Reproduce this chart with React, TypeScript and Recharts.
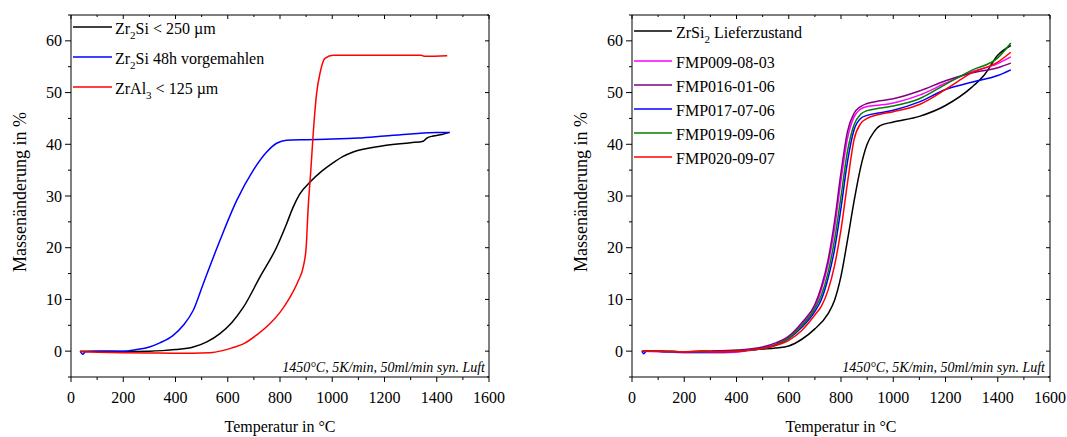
import { Line, LineChart, XAxis, YAxis } from 'recharts'

const serif = "'Liberation Serif', 'Times New Roman', serif"

const xTicks = [0, 100, 200, 300, 400, 500, 600, 700, 800, 900, 1000, 1100, 1200, 1300, 1400, 1500, 1600]
const yTicks = [-5, 0, 5, 10, 15, 20, 25, 30, 35, 40, 45, 50, 55, 60, 65]

// left panel: [temperature °C, mass change %]
const zr2siCoarse: [number, number][] = [
  [35, 0], [100, 0], [200, -0.05], [300, 0], [350, 0.1], [400, 0.3], [468, 0.8], [520, 1.8],
  [570, 3.4], [615, 5.5], [660, 8.5], [723, 14.3], [787, 20.1], [825, 24.6], [850, 27.8],
  [876, 30.4], [915, 32.7], [960, 34.8], [1000, 36.3], [1040, 37.6], [1080, 38.5], [1195, 39.7],
  [1300, 40.3], [1348, 40.6], [1362, 41.2], [1386, 41.6], [1420, 41.9], [1448, 42.3],
]
const zr2siMilled: [number, number][] = [
  [35, 0], [45, -0.6], [55, -0.1], [100, 0], [200, 0], [250, 0.3], [300, 0.8], [340, 1.6],
  [390, 3], [430, 5], [468, 7.9], [506, 13], [570, 21.4], [634, 29.1], [698, 35],
  [749, 38.5], [787, 40.2], [825, 40.8], [900, 40.9], [1000, 41], [1100, 41.2], [1200, 41.6],
  [1300, 42], [1400, 42.3], [1450, 42.3],
]
const zrAl3: [number, number][] = [
  [35, -0.1], [100, -0.2], [200, -0.3], [300, -0.35], [400, -0.4], [532, -0.3], [580, 0.1],
  [620, 0.7], [660, 1.4], [710, 3.1], [761, 5.3], [800, 7.5], [838, 10.4], [870, 13.6],
  [889, 16.3], [900, 20], [908, 27.9], [918, 35], [927, 42], [940, 49.8], [953, 53.7],
  [972, 56.6], [1004, 57.2], [1200, 57.2], [1340, 57.2], [1355, 57], [1440, 57.1],
]

// right panel
const zrsi2Raw: [number, number][] = [
  [38, 0], [100, 0], [200, -0.1], [300, 0], [400, 0.1], [500, 0.4], [550, 0.6], [600, 1],
  [650, 2.3], [700, 4.3], [750, 7.2], [775, 9.8], [800, 14.5], [825, 21.5], [850, 29],
  [875, 35.5], [900, 40], [925, 42.3], [950, 43.6], [1000, 44.3], [1100, 45.4], [1200, 47.5],
  [1300, 51], [1350, 53.5], [1400, 57.2], [1450, 59.1],
]
const fmp009: [number, number][] = [
  [38, 0], [100, -0.1], [200, -0.3], [300, -0.3], [400, -0.2], [450, 0.1], [500, 0.6],
  [550, 1.3], [600, 2.7], [650, 5.2], [700, 8.5], [725, 11.9], [750, 16.7], [775, 23.6],
  [800, 33], [825, 41.2], [850, 45.3], [875, 46.8], [900, 47.3], [950, 47.6], [1000, 48],
  [1100, 49.5], [1200, 51.8], [1300, 54], [1400, 55.6], [1450, 56.9],
]
const fmp016: [number, number][] = [
  [38, 0], [100, 0], [200, -0.1], [300, 0], [400, 0.2], [450, 0.4], [500, 0.8], [550, 1.6],
  [600, 2.9], [650, 5.5], [700, 9], [725, 12.5], [750, 17.5], [775, 25], [800, 34.5],
  [825, 42.5], [850, 46], [875, 47.3], [900, 47.9], [950, 48.4], [1000, 48.8], [1100, 50.3],
  [1200, 52.3], [1300, 53.8], [1400, 54.8], [1450, 55.7],
]
const fmp017: [number, number][] = [
  [38, 0], [45, -0.5], [55, 0], [100, 0], [200, -0.1], [300, -0.1], [400, 0], [450, 0.2],
  [500, 0.5], [550, 1.2], [600, 2.4], [650, 4.6], [700, 7.7], [725, 10], [750, 14], [775, 19.6],
  [800, 27.7], [825, 36.7], [850, 42.8], [875, 45], [900, 45.6], [950, 46.1], [1000, 46.6],
  [1100, 48.2], [1200, 50.6], [1300, 52], [1400, 53.3], [1450, 54.4],
]
const fmp019: [number, number][] = [
  [38, 0], [100, 0], [200, -0.1], [300, -0.1], [400, 0], [450, 0.2], [500, 0.5], [550, 1.2],
  [600, 2.5], [650, 4.9], [700, 8.2], [725, 10.8], [750, 15.1], [775, 21.4], [800, 29.9],
  [825, 38.7], [850, 43.8], [875, 45.8], [900, 46.5], [950, 47], [1000, 47.4], [1100, 48.8],
  [1200, 51.6], [1300, 54.3], [1400, 56.7], [1450, 59.6],
]
const fmp020: [number, number][] = [
  [38, 0], [100, 0], [200, -0.1], [280, 0.1], [300, -0.1], [400, 0], [450, 0.2], [500, 0.5],
  [550, 1.1], [600, 2.1], [650, 4], [700, 7], [725, 8.7], [750, 11.7], [775, 16.5], [800, 23.5],
  [825, 32.6], [850, 40.9], [875, 44], [900, 45], [950, 45.8], [1000, 46.3], [1100, 47.7],
  [1200, 50.6], [1300, 53.8], [1400, 55.9], [1450, 57.8],
]

type Series = { name: string; color: string; data: [number, number][] }

const leftSeries: Series[] = [
  { name: 'Zr_2Si < 250 µm', color: '#000000', data: zr2siCoarse },
  { name: 'Zr_2Si 48h vorgemahlen', color: '#0000ff', data: zr2siMilled },
  { name: 'ZrAl_3 < 125 µm', color: '#ff0000', data: zrAl3 },
]
const rightSeries: Series[] = [
  { name: 'ZrSi_2 Lieferzustand', color: '#000000', data: zrsi2Raw },
  { name: 'FMP009-08-03', color: '#ff00ff', data: fmp009 },
  { name: 'FMP016-01-06', color: '#800080', data: fmp016 },
  { name: 'FMP017-07-06', color: '#0000ff', data: fmp017 },
  { name: 'FMP019-09-06', color: '#008000', data: fmp019 },
  { name: 'FMP020-09-07', color: '#ff0000', data: fmp020 },
]

const toPoints = (arr: [number, number][]) => arr.map(([t, v]) => ({ t, v }))

function BottomTick(props: any) {
  const { x, y, payload } = props
  const major = payload.value % 200 === 0
  return (
    <g>
      <line x1={x} x2={x} y1={y} y2={y + (major ? 5 : 3)} stroke="#000" />
      {major && (
        <text x={x} y={y + 26} textAnchor="middle" fontSize={16} fill="#000" fontFamily={serif}>
          {payload.value}
        </text>
      )}
    </g>
  )
}

function TopTick(props: any) {
  const { x, y, payload } = props
  const major = payload.value % 200 === 0
  return <line x1={x} x2={x} y1={y} y2={y + (major ? 4 : 2)} stroke="#000" />
}

function LeftTick(props: any) {
  const { x, y, payload } = props
  const major = payload.value % 10 === 0
  return (
    <g>
      <line x1={x - (major ? 6 : 3)} x2={x} y1={y} y2={y} stroke="#000" />
      {major && (
        <text x={x - 9} y={y + 5.5} textAnchor="end" fontSize={16} fill="#000" fontFamily={serif}>
          {payload.value}
        </text>
      )}
    </g>
  )
}

function RightTick(props: any) {
  const { x, y, payload } = props
  const major = payload.value % 10 === 0
  return <line x1={x - (major ? 4 : 2)} x2={x} y1={y} y2={y} stroke="#000" />
}

// "Zr_2Si" -> Zr with subscript 2
function Label({ x, y, text }: { x: number; y: number; text: string }) {
  const parts = text.split(/_(\d)/)
  return (
    <text x={x} y={y} fontSize={16} fontFamily={serif} fill="#000">
      {parts.map((p, i) =>
        i % 2 === 1 ? (
          <tspan key={i} dy={5} fontSize={11}>{p}</tspan>
        ) : (
          <tspan key={i} dy={i > 0 ? -5 : 0}>{p}</tspan>
        ),
      )}
    </text>
  )
}

function Panel({ series, left, width, margin }: { series: Series[]; left: number; width: number; margin: any }) {
  return (
    <div style={{ position: 'absolute', left, top: 0 }}>
      <LineChart width={width} height={437} margin={margin}>
        <XAxis
          dataKey="t"
          type="number"
          domain={[0, 1600]}
          ticks={xTicks}
          interval={0}
          height={60}
          tickSize={0}
          tickMargin={0}
          tickLine={false}
          tick={BottomTick}
          axisLine={{ stroke: '#000' }}
        />
        <XAxis
          xAxisId="top"
          orientation="top"
          dataKey="t"
          type="number"
          domain={[0, 1600]}
          ticks={xTicks}
          interval={0}
          height={1}
          tickSize={0}
          tickMargin={0}
          tickLine={false}
          tick={TopTick}
          axisLine={{ stroke: '#000' }}
        />
        <YAxis
          type="number"
          domain={[-5, 65]}
          ticks={yTicks}
          interval={0}
          width={50}
          tickSize={0}
          tickMargin={0}
          tickLine={false}
          tick={LeftTick}
          axisLine={{ stroke: '#000' }}
        />
        <YAxis
          yAxisId="right"
          orientation="right"
          type="number"
          domain={[-5, 65]}
          ticks={yTicks}
          interval={0}
          width={1}
          tickSize={0}
          tickMargin={0}
          tickLine={false}
          tick={RightTick}
          axisLine={{ stroke: '#000' }}
        />
        {/* invisible copy so the mirrored frame axes get rendered */}
        <Line
          xAxisId="top"
          yAxisId="right"
          data={toPoints(series[0].data)}
          dataKey="v"
          stroke="none"
          dot={false}
          legendType="none"
          isAnimationActive={false}
        />
        {series.map((s) => (
          <Line
            key={s.name}
            data={toPoints(s.data)}
            dataKey="v"
            type="monotone"
            stroke={s.color}
            strokeWidth={1.5}
            dot={false}
            isAnimationActive={false}
          />
        ))}
      </LineChart>
    </div>
  )
}

const leftLegendY = [27, 57, 87]
const rightLegendY = [31, 61, 85, 109, 133, 157]

export default function App() {
  return (
    <div style={{ position: 'absolute', left: 0, top: 0, width: 1067, height: 437, background: '#fff' }}>
      <Panel series={leftSeries} left={0} width={533} margin={{ top: 14, right: 43, bottom: 0, left: 21 }} />
      <Panel series={rightSeries} left={533} width={534} margin={{ top: 14, right: 16, bottom: 0, left: 49 }} />
      <svg
        width={1067}
        height={437}
        style={{ position: 'absolute', left: 0, top: 0, pointerEvents: 'none' }}
      >
        <text transform="translate(26,192) rotate(-90)" textAnchor="middle" fontSize={18} fontFamily={serif}>
          Massenänderung in %
        </text>
        <text transform="translate(587,192) rotate(-90)" textAnchor="middle" fontSize={18} fontFamily={serif}>
          Massenänderung in %
        </text>
        <text x={280} y={432} textAnchor="middle" fontSize={16} fontFamily={serif}>
          Temperatur in °C
        </text>
        <text x={841} y={432} textAnchor="middle" fontSize={16} fontFamily={serif}>
          Temperatur in °C
        </text>
        <text x={485} y={372} textAnchor="end" fontSize={14} fontStyle="italic" fontFamily={serif}>
          1450°C, 5K/min, 50ml/min syn. Luft
        </text>
        <text x={1045} y={372} textAnchor="end" fontSize={14} fontStyle="italic" fontFamily={serif}>
          1450°C, 5K/min, 50ml/min syn. Luft
        </text>
        {leftSeries.map((s, i) => (
          <g key={s.name}>
            <line x1={73} x2={112} y1={leftLegendY[i]} y2={leftLegendY[i]} stroke={s.color} strokeWidth={1.5} />
            <Label x={115} y={leftLegendY[i] + 7} text={s.name} />
          </g>
        ))}
        {rightSeries.map((s, i) => (
          <g key={s.name}>
            <line x1={634} x2={672} y1={rightLegendY[i]} y2={rightLegendY[i]} stroke={s.color} strokeWidth={1.5} />
            <Label x={676} y={rightLegendY[i] + 7} text={s.name} />
          </g>
        ))}
      </svg>
    </div>
  )
}
